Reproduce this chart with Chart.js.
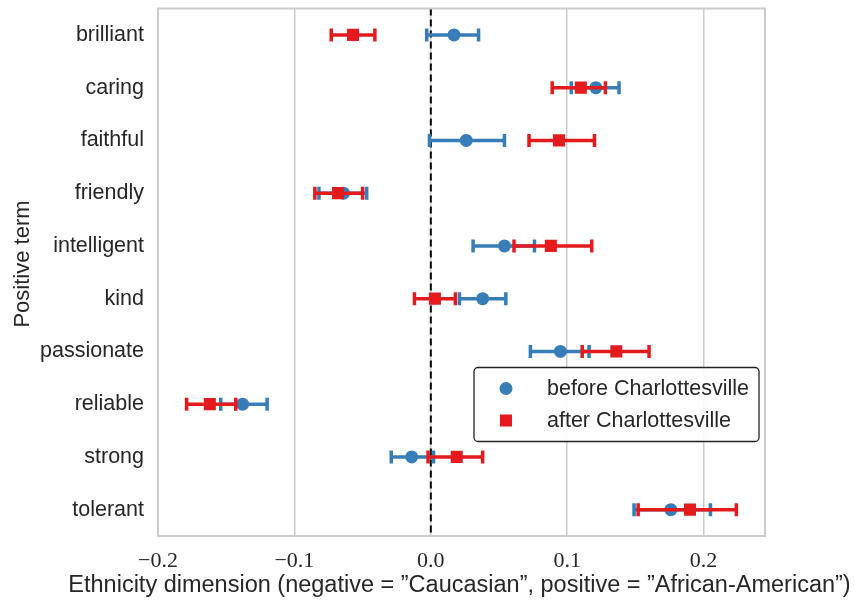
<!DOCTYPE html>
<html>
<head>
<meta charset="utf-8">
<script src="https://cdn.jsdelivr.net/npm/chart.js@4.4.1/dist/chart.umd.min.js"></script>
<style>
html,body{margin:0;padding:0;background:#fff;}
#wrap{width:854px;height:604px;}
</style>
</head>
<body>
<div id="wrap"><canvas id="c" width="854" height="604"></canvas></div>
<script>
// ---- data ----
const categories = ['brilliant','caring','faithful','friendly','intelligent','kind','passionate','reliable','strong','tolerant'];
const beforeMean = [0.017, 0.121, 0.026, -0.064, 0.054, 0.038, 0.095, -0.138, -0.014, 0.176];
const beforeLow  = [-0.003, 0.103, -0.001, -0.082, 0.031, 0.021, 0.073, -0.154, -0.029, 0.149];
const beforeHigh = [0.035, 0.138, 0.054, -0.047, 0.076, 0.055, 0.116, -0.120, 0.002, 0.205];
const afterMean  = [-0.057, 0.110, 0.094, -0.068, 0.088, 0.003, 0.136, -0.162, 0.019, 0.190];
const afterLow   = [-0.073, 0.089, 0.072, -0.085, 0.061, -0.012, 0.111, -0.179, -0.002, 0.152];
const afterHigh  = [-0.041, 0.128, 0.120, -0.050, 0.118, 0.018, 0.160, -0.143, 0.038, 0.224];
const xTickValues = [-0.2, -0.1, 0.0, 0.1, 0.2];
const xTickLabels = ['\u22120.2', '\u22120.1', '0.0', '0.1', '0.2'];
const seriesLabels = ['before Charlottesville', 'after Charlottesville'];
const xTitle = 'Ethnicity dimension (negative = \u201dCaucasian\u201d, positive = \u201dAfrican-American\u201d)';
const yTitle = 'Positive term';

const BLUE = '#377eb8', RED = '#e41a1c', TEXT = '#262626', GRID = '#cccccc';
const SANS = '"Liberation Sans", Arial, Helvetica, sans-serif';
const SERIF = '"Liberation Serif", "Times New Roman", serif';

const errorBars = [
  {low: beforeLow, high: beforeHigh, color: BLUE},
  {low: afterLow, high: afterHigh, color: RED}
];

const customPlugin = {
  id: 'custom',
  beforeDatasetsDraw(chart) {
    const {ctx, chartArea: a, scales: {x}} = chart;
    const x0 = x.getPixelForValue(0);
    ctx.save();
    ctx.strokeStyle = '#000';
    ctx.lineWidth = 2;
    ctx.setLineDash([7, 4]);
    ctx.beginPath();
    ctx.moveTo(x0, a.top);
    ctx.lineTo(x0, a.bottom);
    ctx.stroke();
    ctx.restore();
  },
  beforeDatasetDraw(chart, args) {
    const {ctx, scales: {x}} = chart;
    const eb = errorBars[args.index];
    const meta = args.meta;
    ctx.save();
    ctx.strokeStyle = eb.color;
    ctx.lineWidth = 3.5;
    ctx.lineCap = 'butt';
    meta.data.forEach((pt, i) => {
      const y = pt.y;
      const xl = x.getPixelForValue(eb.low[i]);
      const xh = x.getPixelForValue(eb.high[i]);
      ctx.beginPath();
      ctx.moveTo(xl, y); ctx.lineTo(xh, y);
      ctx.moveTo(xl, y - 6.5); ctx.lineTo(xl, y + 6.5);
      ctx.moveTo(xh, y - 6.5); ctx.lineTo(xh, y + 6.5);
      ctx.stroke();
    });
    ctx.restore();
  },
  afterDatasetsDraw(chart) {
    const {ctx, chartArea: a} = chart;
    ctx.save();
    // frame
    ctx.strokeStyle = GRID;
    ctx.lineWidth = 2;
    ctx.strokeRect(a.left, a.top, a.right - a.left, a.bottom - a.top);
    // legend
    const lx = a.right - 291, ly = a.top + 359, lw = 285, lh = 74;
    ctx.beginPath();
    ctx.roundRect(lx, ly, lw, lh, 4);
    ctx.fillStyle = 'rgba(255,255,255,0.9)';
    ctx.fill();
    ctx.strokeStyle = '#222';
    ctx.lineWidth = 1.3;
    ctx.stroke();
    const colors = [BLUE, RED];
    seriesLabels.forEach((lab, i) => {
      const cy = ly + 21 + i * 32;
      const mx = lx + 32;
      ctx.fillStyle = colors[i];
      if (i === 0) {
        ctx.beginPath(); ctx.arc(mx, cy, 6.5, 0, Math.PI * 2); ctx.fill();
      } else {
        ctx.fillRect(mx - 6, cy - 6, 12, 12);
      }
      ctx.fillStyle = TEXT;
      ctx.font = '21.5px ' + SANS;
      ctx.textBaseline = 'middle';
      ctx.textAlign = 'left';
      ctx.fillText(lab, lx + 73, cy + 1);
    });
    // axis titles
    ctx.fillStyle = TEXT;
    ctx.textAlign = 'center';
    ctx.textBaseline = 'middle';
    ctx.font = '23.5px ' + SANS;
    ctx.fillText(xTitle, (a.left + a.right) / 2 - 2, 586);
    ctx.translate(23, 264);
    ctx.rotate(-Math.PI / 2);
    ctx.font = '22px ' + SANS;
    ctx.fillText(yTitle, 0, 0);
    ctx.restore();
  }
};

new Chart(document.getElementById('c'), {
  type: 'line',
  data: {
    labels: categories,
    datasets: [
      {
        label: seriesLabels[0], data: beforeMean, order: 2,
        showLine: false, pointStyle: 'circle', pointRadius: 6.5,
        pointBackgroundColor: BLUE, pointBorderWidth: 0, borderColor: BLUE
      },
      {
        label: seriesLabels[1], data: afterMean, order: 1,
        showLine: false, pointStyle: 'rect', pointRadius: 8.5,
        pointBackgroundColor: RED, pointBorderWidth: 0, borderColor: RED
      }
    ]
  },
  options: {
    indexAxis: 'y',
    responsive: false,
    animation: false,
    events: [],
    layout: {padding: {top: 8, right: 89, left: 0, bottom: 0}},
    plugins: {legend: {display: false}, tooltip: {enabled: false}},
    scales: {
      x: {
        type: 'linear', min: -0.2, max: 0.245,
        afterBuildTicks(scale) { scale.ticks = xTickValues.map(v => ({value: v})); },
        afterFit(scale) { scale.height = 68; scale.paddingLeft = 0; scale.paddingRight = 0; },
        ticks: {
          callback(v) { const i = xTickValues.findIndex(t => Math.abs(t - v) < 1e-9); return i >= 0 ? xTickLabels[i] : ''; },
          font: {family: SERIF, size: 22}, color: TEXT, padding: 12, maxRotation: 0
        },
        grid: {color: GRID, lineWidth: 1.5, drawTicks: false},
        border: {display: false},
        title: {display: false}
      },
      y: {
        type: 'category', offset: true,
        afterFit(scale) { scale.width = 158; scale.paddingTop = 0; scale.paddingBottom = 0; },
        ticks: {font: {family: SANS, size: 21.5}, color: TEXT, padding: 14},
        grid: {display: false, drawTicks: false},
        border: {display: false},
        title: {display: false}
      }
    }
  },
  plugins: [customPlugin]
});
</script>
</body>
</html>
